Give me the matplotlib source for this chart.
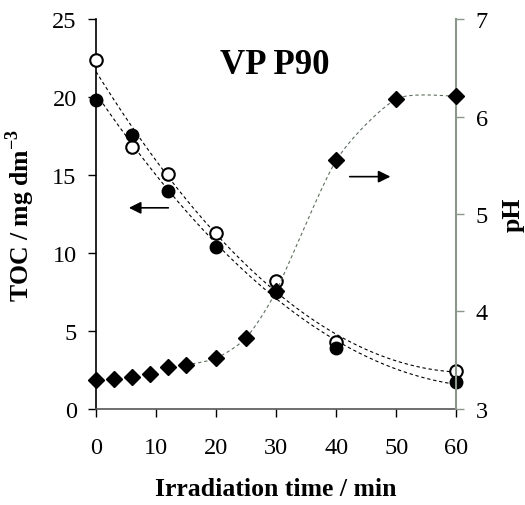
import numpy as np
import matplotlib
matplotlib.use("Agg")
import matplotlib.pyplot as plt

plt.rcParams['font.family'] = ['Liberation Serif', 'DejaVu Serif']
plt.rcParams['mathtext.fontset'] = 'custom'
plt.rcParams['mathtext.rm'] = 'Liberation Serif'
plt.rcParams['mathtext.bf'] = 'Liberation Serif:bold'

# TOC data (left axis)
toc_time = [0, 6, 12, 20, 30, 40, 60]
toc_filled = [19.8, 17.6, 14.0, 10.4, 7.5, 3.9, 1.7]
toc_open = [22.4, 16.8, 15.1, 11.3, 8.2, 4.3, 2.4]

# pH data (right axis)
ph_time = [0, 3, 6, 9, 12, 15, 20, 25, 30, 40, 50, 60]
ph_vals = [3.30, 3.31, 3.33, 3.36, 3.43, 3.45, 3.52, 3.73, 4.21, 5.55, 6.18, 6.21]

axis_grey = '#8a978a'


def catmull_rom(xs, ys, n=30, tension=0.7):
    # smooth line through the points, like a spreadsheet "smoothed line"
    xs = np.asarray(xs, float)
    ys = np.asarray(ys, float)
    px = np.concatenate([[xs[0]], xs, [xs[-1]]])
    py = np.concatenate([[ys[0]], ys, [ys[-1]]])
    outx, outy = [], []
    t = np.linspace(0, 1, n)
    for i in range(1, len(px) - 2):
        for p, out in ((px, outx), (py, outy)):
            p0, p1, p2, p3 = p[i - 1], p[i], p[i + 1], p[i + 2]
            c1 = p1 + tension * (p2 - p0) / 6.0   # bezier control points
            c2 = p2 - tension * (p3 - p1) / 6.0
            out.extend((1 - t) ** 3 * p1 + 3 * (1 - t) ** 2 * t * c1
                       + 3 * (1 - t) * t ** 2 * c2 + t ** 3 * p2)
    return np.array(outx), np.array(outy)


fig = plt.figure(figsize=(5.25, 5.06), dpi=100)
ax = fig.add_axes([0.183, 0.190, 0.686, 0.770])
ax2 = ax.twinx()

# trend lines for TOC (2nd order polynomial)
xx = np.linspace(0, 60, 200)
for vals in (toc_open, toc_filled):
    c = np.polyfit(toc_time, vals, 2)
    ax.plot(xx, np.polyval(c, xx), color='black', lw=0.8, ls=(0, (3, 2.5)), zorder=2)

ax.plot(toc_time, toc_open, 'o', ms=9, mfc='white', mec='black', mew=1.5, zorder=3, clip_on=False)
ax.plot(toc_time, toc_filled, 'o', ms=9, mfc='black', mec='black', zorder=4, clip_on=False)

# pH smooth line from 15 min on
sx, sy = catmull_rom(ph_time[5:], ph_vals[5:])
ax2.plot(sx, sy, color='#5f6f5f', lw=0.8, ls=(0, (3, 2.5)), zorder=2)
ax2.plot(ph_time, ph_vals, 'D', ms=8, color='black', zorder=3, clip_on=False)

ax.set_xlim(0, 60)
ax.set_ylim(0, 25)
ax2.set_ylim(3, 7)
ax.set_xticks(range(0, 61, 10))
ax.set_yticks(range(0, 26, 5))
ax2.set_yticks(range(3, 8))

ax.spines['top'].set_visible(False)
ax2.spines['top'].set_visible(False)
ax.spines['right'].set_visible(False)
ax2.spines['left'].set_visible(False)
ax2.spines['bottom'].set_visible(False)
ax.spines['bottom'].set_color('#555555')
ax2.spines['right'].set_color(axis_grey)
for s in ('left', 'bottom'):
    ax.spines[s].set_linewidth(1.2)
ax2.spines['right'].set_linewidth(1.5)

ax.tick_params(axis='both', direction='out', length=6, width=1.0, labelsize=17.5, pad=8)
ax.tick_params(axis='x', pad=14, colors='black')
ax2.tick_params(axis='y', direction='out', length=6, width=1.0, labelsize=17.5,
                color=axis_grey, pad=8)

ax.set_xlabel('Irradiation time / min', fontsize=18.5, fontweight='bold', labelpad=14)
ax.set_ylabel(r'TOC / mg dm$^{\mathbf{-3}}$', fontsize=18.5, fontweight='bold', labelpad=11)
ax2.set_ylabel('pH', fontsize=18.5, fontweight='bold', labelpad=10)

ax.text(29.8, 22.1, 'VP P90', fontsize=25, fontweight='bold', ha='center', va='center')

ax.annotate('', xy=(5.0, 12.9), xytext=(12.5, 12.9),
            arrowprops=dict(arrowstyle='-|>', color='black', lw=1.2, mutation_scale=18))
ax.annotate('', xy=(49.5, 14.9), xytext=(41.8, 14.9),
            arrowprops=dict(arrowstyle='-|>', color='black', lw=1.2, mutation_scale=18))

fig.savefig('out.png', dpi=100)
